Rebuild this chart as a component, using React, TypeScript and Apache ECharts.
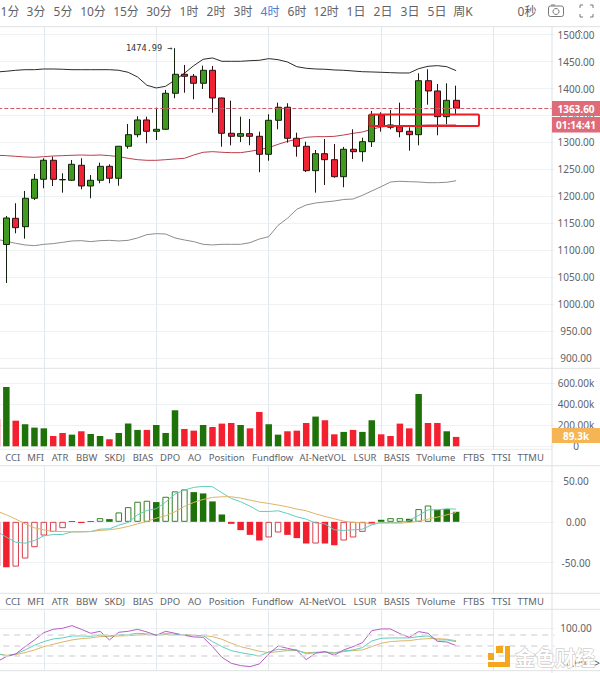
import React, { useEffect, useRef } from "react";
import * as echarts from "echarts";

// slot 0 is the partly visible candle at the left edge; the last slots are the empty space on the right
const slots = Array.from({ length: 60 }, (_, i) => String(i));

const candleOpen = [1230, 1110.6, 1159.2, 1143.6, 1196.4, 1231.6, 1266.9, 1230.5, 1229.8, 1257.6, 1219.2, 1229.8, 1255.7, 1233.5, 1292.9, 1314.4, 1341.7, 1320.7, 1324.4, 1391.2, 1426.5, 1422.8, 1409.8, 1433.9, 1382.5, 1317, 1311.4, 1316.3, 1311.4, 1278, 1341.1, 1365.3, 1307.7, 1292.9, 1247.6, 1279.1, 1268, 1236.4, 1287.3, 1282.8, 1301.4, 1351, 1328.1, 1329.2, 1320.7, 1314.4, 1414.6, 1395.5, 1347.8, 1378.2];
const candleClose = [1139, 1159.8, 1141.8, 1196.4, 1231.6, 1266.9, 1231.6, 1231.2, 1259.4, 1219.2, 1229.8, 1255.7, 1233.5, 1292.9, 1314.4, 1341.7, 1320.7, 1324.4, 1391.2, 1426.5, 1422.8, 1409.8, 1433.9, 1382.5, 1317, 1311.4, 1316.3, 1311.4, 1278, 1341.1, 1365.3, 1307.7, 1292.9, 1247.6, 1279.1, 1268, 1236.4, 1287.3, 1282.8, 1301.4, 1351, 1331.1, 1332.4, 1320, 1314.4, 1414.6, 1395.5, 1347.8, 1378.2, 1363.6];
const candleLow = [1120, 1039.2, 1131.4, 1121.4, 1193.2, 1214.9, 1219.2, 1206.8, 1228.5, 1213.1, 1196.4, 1224.2, 1224.2, 1219.7, 1288.4, 1309.6, 1298.4, 1304.6, 1323.5, 1381.9, 1392.3, 1380.1, 1399.2, 1355.2, 1292.1, 1294.7, 1300.8, 1294.7, 1244.6, 1266.1, 1324.4, 1299.6, 1273.6, 1245, 1206.8, 1221, 1234.6, 1216.8, 1269.3, 1264.3, 1291.6, 1320, 1324.4, 1309.6, 1284.7, 1294.7, 1370.1, 1313.3, 1333.7, 1352.8];
const candleHigh = [1240, 1163.5, 1187.1, 1209.9, 1241.5, 1270.6, 1273.6, 1242.8, 1267.4, 1270.6, 1239.6, 1262.4, 1259.4, 1293.5, 1334.3, 1348.6, 1347.8, 1364.5, 1397.4, 1474.99, 1443.8, 1427.1, 1442.5, 1441.9, 1383, 1377.5, 1347.8, 1343.5, 1320, 1352.3, 1373.8, 1372.7, 1318.1, 1301.4, 1286, 1306.4, 1297.1, 1291.6, 1324.4, 1308.8, 1358.4, 1356, 1360.2, 1373.8, 1328.1, 1428.4, 1435.8, 1408.5, 1409.8, 1405.3];

const bbUpper = [1430.8, 1432.1, 1433.9, 1435, 1435, 1436.3, 1436.3, 1435.8, 1435, 1435, 1435, 1435, 1435, 1433.9, 1430.2, 1421.5, 1406.1, 1401.1, 1404.2, 1415.9, 1428.4, 1442.5, 1454.3, 1456.8, 1450.6, 1450.6, 1450.6, 1451.7, 1452.5, 1455.5, 1453.6, 1449.3, 1440.6, 1437.6, 1436.3, 1435.8, 1434.5, 1433.9, 1432.6, 1431.3, 1430.8, 1430.2, 1429.5, 1428.9, 1428.9, 1436.9, 1441.3, 1442.5, 1440.6, 1433.2];
const bbMiddle = [1276.1, 1275.5, 1274.2, 1273, 1272.4, 1273.6, 1274.8, 1275.5, 1276.1, 1276.7, 1276.1, 1276.7, 1275.5, 1273.6, 1270.5, 1268, 1266.8, 1266.8, 1268, 1269.3, 1270.5, 1276.7, 1281.7, 1282.9, 1281.7, 1281, 1281, 1283.5, 1286.6, 1290.3, 1296.5, 1302, 1305.8, 1309.5, 1310.7, 1310.7, 1311.3, 1313.8, 1316.9, 1319.4, 1324.4, 1328.7, 1330.5, 1330.5, 1331.1, 1331.8, 1332.4, 1332.4, 1332.4, 1332.4];
const bbLower = [1120.2, 1116.5, 1112.8, 1109.7, 1108.4, 1110.9, 1112.2, 1114.6, 1117.1, 1117.7, 1115.9, 1117.7, 1118.3, 1117.1, 1118.3, 1122.7, 1128.9, 1130.7, 1130.1, 1122.7, 1119, 1115.9, 1110.9, 1109.7, 1110.9, 1110.9, 1110.9, 1114, 1120.8, 1125.1, 1146.2, 1159.2, 1175.9, 1183.9, 1187.6, 1189.5, 1191.3, 1194.1, 1195, 1201.9, 1209.9, 1217.9, 1226.6, 1227.9, 1227.2, 1226.6, 1225.3, 1225.3, 1226, 1229];

const volume = [260, 565, 244, 210, 178, 171, 98, 127, 111, 143, 117, 98, 67, 127, 216, 156, 156, 203, 127, 343, 165, 149, 203, 184, 216, 222, 203, 171, 327, 210, 111, 143, 149, 222, 283, 248, 114, 137, 156, 137, 248, 114, 98, 216, 171, 498, 222, 222, 143, 89.3];
const volumeRising = [0, 1, 0, 1, 1, 1, 0, 0, 1, 0, 1, 1, 0, 1, 1, 1, 0, 1, 1, 1, 0, 0, 1, 0, 0, 0, 1, 0, 0, 1, 1, 0, 0, 0, 1, 0, 0, 1, 0, 1, 1, 0, 0, 0, 0, 1, 0, 0, 1, 0];

const macdHist = [-54, -55.7, -54.9, -45, -31.1, -16.8, -12.3, -7.8, 1, -1.5, 1, 4.5, 3.3, 11.5, 18, 24.6, 25.8, 24.2, 30.7, 37.3, 39.7, 36.4, 34.8, 25, 9, -2.5, -10.2, -16, -22.9, -19.2, -13.1, -16, -20, -26.6, -26.6, -26.6, -28.7, -22.9, -19.2, -12.3, -2.9, 2.5, 4.5, 4.5, 3.7, 15.6, 20, 14.7, 15.6, 12.3];
const macdHollow = [0, 0, 1, 1, 1, 1, 1, 1, 0, 0, 0, 1, 0, 1, 1, 1, 1, 0, 1, 1, 1, 0, 0, 0, 0, 0, 0, 0, 0, 1, 1, 0, 0, 0, 1, 0, 0, 1, 1, 1, 0, 0, 1, 1, 0, 1, 1, 0, 0, 0];
const macdDif = [-11.9, -18.8, -25, -26.2, -22.9, -17.2, -15.6, -15.6, -12.3, -12.3, -11.9, -9, -8.6, -4.1, -0.8, 8.6, 13.9, 16, 24.2, 34, 38.9, 42.2, 43.4, 43, 35.6, 28.7, 24.6, 19.2, 12.7, 12.7, 13.5, 10.2, 6.1, 3.3, -1.6, -2.5, -9.8, -10.6, -9.8, -9, -3.7, -0.8, -0.8, -0.8, 1.6, 7.8, 14.7, 14.7, 16, 15.6];
const macdDea = [13.1, 8.6, 3.3, -2.5, -7.4, -9.8, -11.9, -11.9, -12.3, -12.3, -11.9, -10.6, -9.8, -8.2, -5.7, -2.5, 0.4, 4.5, 7.4, 12.3, 18.8, 23.8, 27.4, 29.9, 30.7, 30.7, 29.1, 26.6, 24.2, 22.5, 20.5, 18.4, 15.6, 13.5, 9.8, 6.6, 3.7, 0.8, -0.8, -1.2, -2, -1.6, -1.6, -1.6, -0.8, 0.8, 3.3, 5.7, 8.6, 11.5];

const kdjK = [27.8, 20.2, 25.9, 37.3, 50.6, 61.1, 68.7, 71.6, 77.3, 77.3, 76.3, 80.1, 77.3, 80.1, 81.1, 84.9, 83, 80.1, 84, 82, 80.1, 78.2, 78.2, 61.1, 46.8, 35.4, 29.7, 24.9, 20.2, 31.6, 39.2, 37.3, 37.3, 25.9, 29.7, 31.6, 27.8, 34.4, 37.3, 44, 63, 70.6, 71.6, 71.6, 71.6, 75.4, 77.3, 65.9, 65.9, 61.1];
const kdjD = [25.9, 22.1, 24, 29.7, 37.3, 46.8, 53.5, 60.1, 65.9, 69.7, 71.6, 75.4, 76.3, 77.3, 78.2, 80.1, 81.1, 80.1, 81.1, 80.1, 81.1, 79.2, 78.2, 75.4, 67.8, 56.4, 46.8, 40.2, 33.5, 29.7, 32.5, 35.4, 35.4, 29.7, 30.6, 31.6, 29.7, 32.5, 35.4, 37.3, 46.8, 56.4, 61.1, 63, 63.9, 67.8, 69.7, 69.7, 67.8, 63.9];
const kdjJ = [4, 18.2, 25.9, 46.8, 65.9, 86.8, 96.3, 99.2, 106.8, 96.3, 84.9, 90.6, 65.9, 87.8, 90.6, 96.3, 88.7, 79.2, 90.6, 84.9, 79.2, 74.4, 73.4, 46.8, 16.4, -0.8, -7.4, -10.3, -2.7, 25.9, 48.7, 42, 36.3, 9.7, 27.8, 32.5, 22.1, 37.3, 46.8, 58.2, 92.5, 97.3, 97.3, 84, 73.4, 89.7, 84.9, 62, 60.1, 49.7];

const priceTicks = [900, 950, 1000, 1050, 1100, 1150, 1200, 1250, 1300, 1350, 1400, 1450, 1500];
const volumeTicks = [0, 200, 400, 600];
const macdTicks = [-50, 0, 50];
const kdjTicks = [0, 100];
const kdjLevels = [20, 50, 80];

const lastPrice = 1363.6;
const peakPrice = 1474.99;
const priceLabel = "1363.60";
const countdownLabel = "01:14:41";
const volumeLabel = "89.3k";

const periods = ["1分", "3分", "5分", "10分", "15分", "30分", "1时", "2时", "3时", "4时", "6时", "12时", "1日", "2日", "3日", "5日", "周K", "0秒"];
const periodCenters = [10, 36, 63, 93, 126, 159, 189, 216, 243, 270, 297, 326, 356, 383, 410, 437, 463, 527];
const indicators = ["CCI", "MFI", "ATR", "BBW", "SKDJ", "BIAS", "DPO", "AO", "Position", "Fundflow", "AI-NetVOL", "LSUR", "BASIS", "TVolume", "FTBS", "TTSI", "TTMU"];
const indicatorCenters = [12.7, 35.7, 60, 86.7, 114.7, 143, 170, 194.7, 226.7, 272.7, 322.7, 365, 396.7, 435.7, 473.7, 501, 530.7];

const FONT = '"Noto Sans", "Noto Sans CJK SC", sans-serif';
const GREEN = "#3f9a1e";
const RED = "#ef2334";
const VOL_GREEN = "#1f7109";
const VOL_RED = "#f5202f";
const GRID_COLOR = "#eff2f4";
const SEP_COLOR = "#dfe1e3";
const isVertical = (_: number, v: string) => (Number(v) - 5) % 12 === 0 && Number(v) >= 5;

const gridLeft = -7.7;
const gridWidth = 562.2;
const panels = [
  { top: 26.7, bottom: 368.3, min: 880.8, max: 1514.8 },
  { top: 369, bottom: 449.3, min: -28.6, max: 736 },
  { top: 466, bottom: 593.3, min: -87.6, max: 68.4 },
  { top: 609.5, bottom: 670.7, min: -22, max: 152.9 },
];

function yAxis(idx: number, ticks: number[], fmt: (v: number) => string) {
  const p = panels[idx];
  return {
    type: "value" as const,
    gridIndex: idx,
    position: "right" as const,
    min: p.min,
    max: p.max,
    scale: true,
    axisLine: { show: false },
    axisTick: { show: false, customValues: ticks },
    axisLabel: {
      customValues: ticks,
      formatter: fmt,
      color: "#5f6368",
      fontFamily: FONT,
      fontSize: 10,
      align: "center" as const,
      margin: 21.5,
    },
    splitLine: { show: true, lineStyle: { color: GRID_COLOR, width: 1 } },
  };
}

function labelText(text: string, x: number, y: number, extra: any = {}) {
  return {
    type: "text",
    x,
    y,
    z: 20,
    silent: true,
    style: {
      text,
      fill: "#5f6368",
      font: `9.5px ${FONT}`,
      textAlign: "center",
      textVerticalAlign: "middle",
      ...extra,
    },
  };
}

function sepLine(x1: number, y1: number, x2: number, y2: number, stroke = SEP_COLOR) {
  return { type: "line", z: 15, silent: true, shape: { x1, y1, x2, y2 }, style: { stroke, lineWidth: 1 } };
}

function buildGraphics() {
  const els: any[] = [];
  periods.forEach((t, i) =>
    els.push(labelText(t, periodCenters[i], 11, { font: `12px ${FONT}`, fill: t === "4时" ? "#4a80d4" : "#5f6368" }))
  );
  indicators.forEach((t, i) => {
    els.push(labelText(t, indicatorCenters[i], 457.5));
    els.push(labelText(t, indicatorCenters[i], 601));
  });
  [26.7, 368.3, 465.7, 593.3, 609.3, 670.7].forEach((y) => els.push(sepLine(0, y, 600, y)));
  els.push(sepLine(0, 449.3, 552, 449.3, "#e9ecee"));
  els.push(sepLine(552, 27, 552, 673));

  // highlighted box
  els.push({
    type: "rect",
    z: 18,
    silent: true,
    shape: { x: 369.5, y: 114.5, width: 109.5, height: 11.5, r: 1 },
    style: { fill: "none", stroke: "#ee1c25", lineWidth: 2 },
  });

  // price tags
  els.push({ type: "rect", z: 30, shape: { x: 552, y: 101, width: 48, height: 15 }, style: { fill: "#df6b78" } });
  els.push({ type: "rect", z: 30, shape: { x: 552, y: 117, width: 48, height: 15.5 }, style: { fill: "#df6b78" } });
  els.push({ type: "rect", z: 30, shape: { x: 552, y: 428, width: 48, height: 15 }, style: { fill: "#f6b555" } });
  els.push({ ...labelText(priceLabel, 576, 108.5, { fill: "#fff", font: `bold 10px ${FONT}` }), z: 31 });
  els.push({ ...labelText(countdownLabel, 576, 125, { fill: "#fff", font: `bold 10px ${FONT}` }), z: 31 });
  els.push({ ...labelText(volumeLabel, 576, 436, { fill: "#fff", font: `bold 10px ${FONT}` }), z: 31 });

  // camera icon
  els.push({ type: "rect", z: 20, shape: { x: 548.5, y: 6, width: 15, height: 10.5, r: 2 }, style: { fill: "none", stroke: "#777", lineWidth: 1 } });
  els.push({ type: "circle", z: 20, shape: { cx: 556, cy: 11.5, r: 3 }, style: { fill: "none", stroke: "#777", lineWidth: 1 } });
  els.push({ type: "line", z: 20, shape: { x1: 551, y1: 5, x2: 555, y2: 5 }, style: { stroke: "#777", lineWidth: 1 } });

  // fullscreen icon
  const ex = [580, 593];
  const ey = [5, 17];
  ex.forEach((x, ix) =>
    ey.forEach((y, iy) => {
      const dx = ix === 0 ? 3 : -3;
      const dy = iy === 0 ? 3 : -3;
      els.push({
        type: "polyline",
        z: 20,
        shape: { points: [[x, y + dy], [x, y], [x + dx, y]] },
        style: { fill: "none", stroke: "#777", lineWidth: 1 },
      });
    })
  );

  // collapse chevron over the top axis label
  els.push({
    type: "polyline",
    z: 20,
    shape: { points: [[576, 33], [579, 30], [582, 33]] },
    style: { fill: "none", stroke: "#777", lineWidth: 1 },
  });
  els.push(labelText(">", 597, 663, { font: `10px ${FONT}`, fill: "#555" }));

  // watermark
  [
    [496, 646, 7, 7],
    [505, 646, 5, 21],
    [488, 662, 22, 5],
    [488, 653, 6, 7],
  ].forEach(([x, y, width, height]) =>
    els.push({ type: "rect", z: 25, silent: true, shape: { x, y, width, height }, style: { fill: "#f4a71d" } })
  );
  els.push({
    type: "text",
    z: 25,
    silent: true,
    x: 515,
    y: 657,
    style: {
      text: "金色财经",
      font: `bold 20px "Noto Sans CJK SC", sans-serif`,
      fill: "#ffffff",
      stroke: "#bdbdbd",
      lineWidth: 1,
      textAlign: "left",
      textVerticalAlign: "middle",
    },
  });
  return els;
}

function buildOption(): any {
  const xAxis = panels.map((_, i) => ({
    type: "category",
    gridIndex: i,
    data: slots,
    boundaryGap: true,
    axisLine: { show: false },
    axisTick: { show: false },
    axisLabel: { show: false },
    splitLine: {
      show: true,
      interval: isVertical,
      alignWithLabel: true,
      lineStyle: { color: "#e2e8ec", width: 1 },
    },
  }));

  const kline = candleOpen.map((o, i) => [o, candleClose[i], candleLow[i], candleHigh[i]]);
  const line = (data: number[], color: string, xi: number, width = 1, z = 3) => ({
    type: "line",
    xAxisIndex: xi,
    yAxisIndex: xi,
    data,
    smooth: false,
    symbol: "none",
    silent: true,
    z,
    lineStyle: { color, width },
  });

  return {
    animation: false,
    backgroundColor: "#fff",
    grid: panels.map((p) => ({
      left: gridLeft,
      width: gridWidth,
      top: p.top,
      height: p.bottom - p.top,
      containLabel: false,
      outerBoundsMode: "none",
    })),
    xAxis,
    yAxis: [
      yAxis(0, priceTicks, (v) => v.toFixed(2)),
      yAxis(1, volumeTicks, (v) => (v === 0 ? "0" : `${v.toFixed(2)}k`)),
      yAxis(2, macdTicks, (v) => v.toFixed(2)),
      yAxis(3, kdjTicks, (v) => v.toFixed(2)),
    ],
    series: [
      {
        type: "candlestick",
        xAxisIndex: 0,
        yAxisIndex: 0,
        data: kline,
        barWidth: 6.5,
        z: 4,
        itemStyle: {
          color: GREEN,
          color0: RED,
          borderColor: "#14210f",
          borderColor0: "#2b1113",
          borderWidth: 1,
        },
        markLine: {
          silent: true,
          symbol: "none",
          label: { show: false },
          lineStyle: { color: "#cf5c68", type: "dashed", width: 1 },
          data: [{ yAxis: lastPrice }],
        },
        markPoint: {
          silent: true,
          symbol: "circle",
          symbolSize: 1,
          itemStyle: { color: "transparent" },
          label: {
            show: true,
            position: "left",
            distance: 2,
            formatter: `${peakPrice} →`,
            fontFamily: '"DejaVu Sans Mono", monospace',
            fontSize: 8.6,
            color: "#333",
          },
          data: [{ coord: ["19", peakPrice] }],
        },
      },
      line(bbUpper, "#2b2b2b", 0),
      line(bbMiddle, "#bb3f4b", 0),
      line(bbLower, "#8c8c8c", 0),
      {
        type: "bar",
        xAxisIndex: 1,
        yAxisIndex: 1,
        barWidth: 6.5,
        silent: true,
        data: volume.map((v, i) => ({
          value: v,
          itemStyle: { color: volumeRising[i] ? VOL_GREEN : VOL_RED },
        })),
      },
      {
        type: "bar",
        xAxisIndex: 2,
        yAxisIndex: 2,
        barWidth: 6.5,
        silent: true,
        data: macdHist.map((v, i) => {
          const c = v >= 0 ? VOL_GREEN : "#f0202f";
          return {
            value: v,
            itemStyle: macdHollow[i]
              ? { color: "transparent", borderColor: v >= 0 ? "#3a7f28" : "#d9404c", borderWidth: 1 }
              : { color: c },
          };
        }),
      },
      line(macdDif, "#62cdbd", 2),
      line(macdDea, "#dcb468", 2),
      {
        ...line(kdjD, "#dcb468", 3),
        markLine: {
          silent: true,
          symbol: "none",
          label: { show: false },
          lineStyle: { color: "#dcdcdc", type: [6, 5], width: 1.5 },
          data: kdjLevels.map((v) => ({ yAxis: v })),
        },
      },
      line(kdjK, "#62cdbd", 3),
      line(kdjJ, "#b85cc4", 3),
    ],
    graphic: { elements: buildGraphics() },
  };
}

export default function App() {
  const ref = useRef<HTMLDivElement>(null);
  useEffect(() => {
    document.body.style.margin = "0";
    document.body.style.background = "#fff";
    const chart = echarts.init(ref.current!, undefined, { renderer: "svg" });
    chart.setOption(buildOption());
    return () => chart.dispose();
  }, []);
  return <div ref={ref} style={{ width: 600, height: 673, overflow: "hidden" }} />;
}
